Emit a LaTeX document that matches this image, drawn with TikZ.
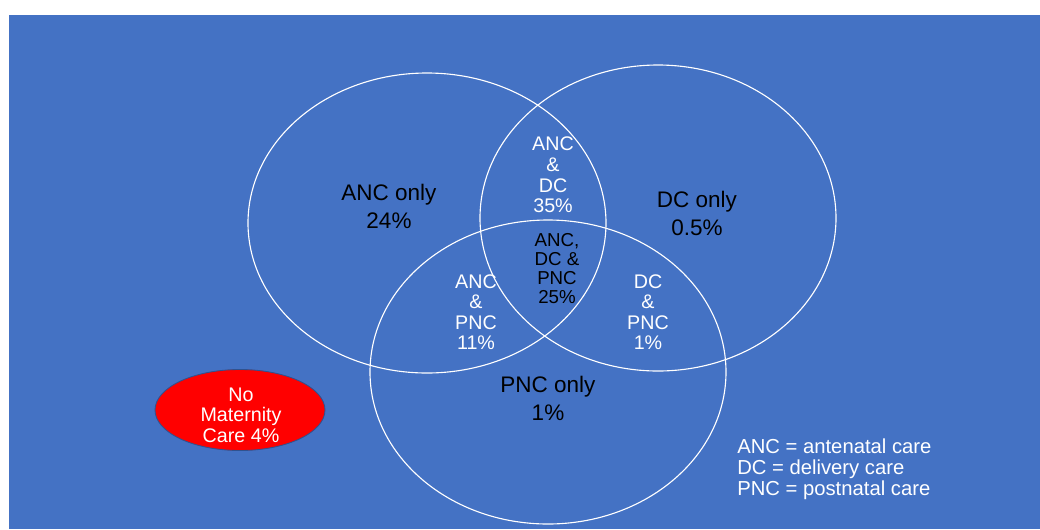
\documentclass[tikz,border=0pt]{standalone}
\usepackage{fontspec}
\setmainfont{Liberation Sans}
\definecolor{slideblue}{HTML}{4472C4}
\definecolor{rimblue}{HTML}{2F528F}

\begin{document}
\begin{tikzpicture}[x=0.025cm, y=-0.025cm, every node/.style={text=white, align=center, inner sep=0pt, font=\fontsize{14}{14.6}\selectfont}]
	\useasboundingbox (0,0) rectangle (1040,529);
	\fill[slideblue] (9,15) rectangle (1040,529);
	% the three sets
	\draw[white, line width=0.8pt] (427,223) ellipse (179 and 150);
	\draw[white, line width=0.8pt] (658,218) ellipse (178 and 153);
	\draw[white, line width=0.8pt] (548,372) ellipse (178 and 152);
	\node[font=\fontsize{16}{19.9}\selectfont, text=black] (ancOnly) at (389,206) {ANC only\\24\%};
	\node[font=\fontsize{16}{19.9}\selectfont, text=black] (dcOnly) at (697,213) {DC only\\0.5\%};
	\node[font=\fontsize{16}{19.9}\selectfont, text=black] (pncOnly) at (548,398) {PNC only\\1\%};
	\node (ancDc) at (553,175) {ANC\\\&\\DC\\35\%};
	\node[text=black, font=\fontsize{13.3}{13.5}\selectfont] (allThree) at (557,269) {ANC,\\DC \&\\PNC\\25\%};
	\node (ancPnc) at (476,312) {ANC\\\&\\PNC\\11\%};
	\node (dcPnc) at (648,312) {DC\\\&\\PNC\\1\%};
	% outside all sets
	\fill[red] (240,410) ellipse (85 and 40.5);
	\draw[rimblue, line width=0.6pt] (240,410) ellipse (85 and 40.5);
	\node (noCare) at (241,415) {No\\Maternity\\Care 4\%};
	% key
	\node[anchor=west, align=left, font=\fontsize{14.4}{14.9}\selectfont] (key) at (737,469) {ANC = antenatal care\\DC = delivery care\\PNC = postnatal care};
\end{tikzpicture}
\end{document}
